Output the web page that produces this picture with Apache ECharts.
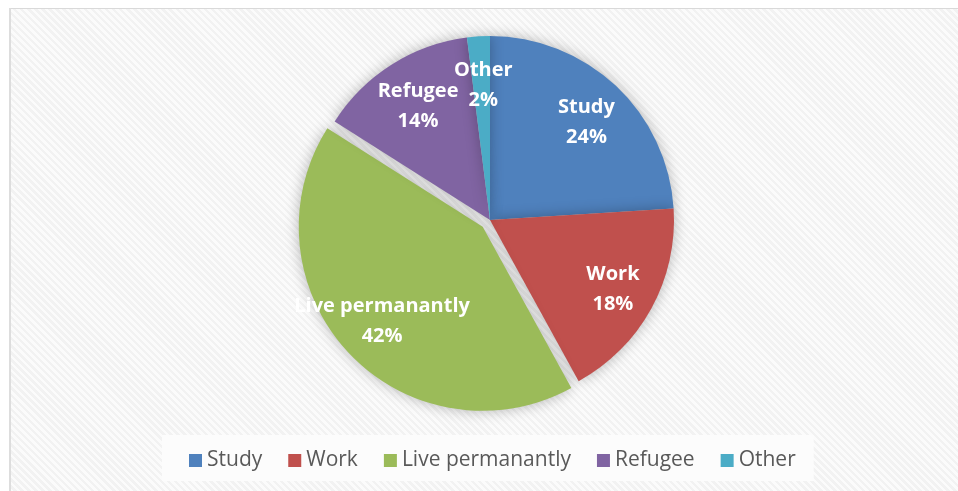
<!DOCTYPE html>
<html>
<head>
<meta charset="utf-8">
<script src="https://cdn.jsdelivr.net/npm/echarts@6/dist/echarts.min.js"></script>
<style>
  html, body { margin: 0; padding: 0; background: #ffffff; }
  #bg {
    position: absolute; left: 10px; top: 9px; width: 948px; height: 482px;
    background: repeating-linear-gradient(45deg, #fbfbfb 0px, #fbfbfb 2.5px, #f2f2f2 2.5px, #f2f2f2 5px);
  }
  #chart { position: absolute; left: 0; top: 0; width: 958px; height: 491px; }
</style>
</head>
<body>
<div id="bg"></div>
<div id="chart"></div>
<script>
// Reasons for migrating, share of respondents (%)
const categories = ['Study', 'Work', 'Live permanantly', 'Refugee', 'Other'];
const shares = [24, 18, 42, 14, 2];
const colors = ['#4F81BD', '#C0504D', '#9BBB59', '#8064A2', '#4BACC6'];
const explodedName = 'Live permanantly';

const FONT = '"Open Sans", Lato, sans-serif';
const CENTER = [490, 220];
const R = 184;
const EXPLODE = 10;

const pieData = categories.map((name, i) => ({
  name: name,
  value: shares[i],
  selected: name === explodedName,
  itemStyle: { color: colors[i] }
}));

const chart = echarts.init(document.getElementById('chart'), null, { renderer: 'canvas' });

chart.setOption({
  backgroundColor: 'transparent',
  animation: false,
  legend: {
    data: categories,
    orient: 'horizontal',
    left: 162,
    top: 435,
    padding: [15, 18, 10, 27],
    backgroundColor: '#fcfcfc',
    itemWidth: 13,
    itemHeight: 13,
    itemGap: 26,
    icon: 'rect',
    selectedMode: false,
    textStyle: { fontFamily: FONT, fontSize: 21, color: '#595959', padding: [0, 0, 0, 0] }
  },
  graphic: [
    { type: 'line', shape: { x1: 9, y1: 8.5, x2: 958, y2: 8.5 }, style: { stroke: '#d9d9d9', lineWidth: 1 }, silent: true },
    { type: 'line', shape: { x1: 10, y1: 8, x2: 10, y2: 491 }, style: { stroke: '#dddddd', lineWidth: 2 }, silent: true }
  ],
  series: [
    {
      // the pie itself
      type: 'pie',
      center: CENTER,
      radius: [0, R],
      startAngle: 90,
      clockwise: true,
      selectedMode: 'single',
      selectedOffset: EXPLODE,
      silent: true,
      label: { show: false },
      labelLine: { show: false },
      itemStyle: {
        borderWidth: 0,
        shadowBlur: 14,
        shadowColor: 'rgba(0,0,0,0.28)'
      },
      select: { itemStyle: { borderWidth: 0 } },
      emphasis: { disabled: true },
      data: pieData
    },
    {
      // transparent ring that carries the data labels at ~3/4 of the radius
      type: 'pie',
      center: CENTER,
      radius: [86, R],
      startAngle: 90,
      clockwise: true,
      selectedMode: 'single',
      selectedOffset: EXPLODE,
      avoidLabelOverlap: false,
      silent: true,
      itemStyle: { color: 'rgba(0,0,0,0)', borderWidth: 0 },
      select: { itemStyle: { color: 'rgba(0,0,0,0)', borderWidth: 0 } },
      emphasis: { disabled: true },
      labelLayout: { hideOverlap: false },
      label: {
        show: true,
        position: 'inside',
        formatter: '{b}\n{d}%',
        color: '#ffffff',
        fontFamily: FONT,
        fontWeight: 'bold',
        fontSize: 20,
        lineHeight: 30,
        align: 'center',
        offset: [2, 3]
      },
      labelLine: { show: false },
      data: categories.map((name, i) => ({
        name: name,
        value: shares[i],
        selected: name === explodedName
      }))
    }
  ]
});
</script>
</body>
</html>
